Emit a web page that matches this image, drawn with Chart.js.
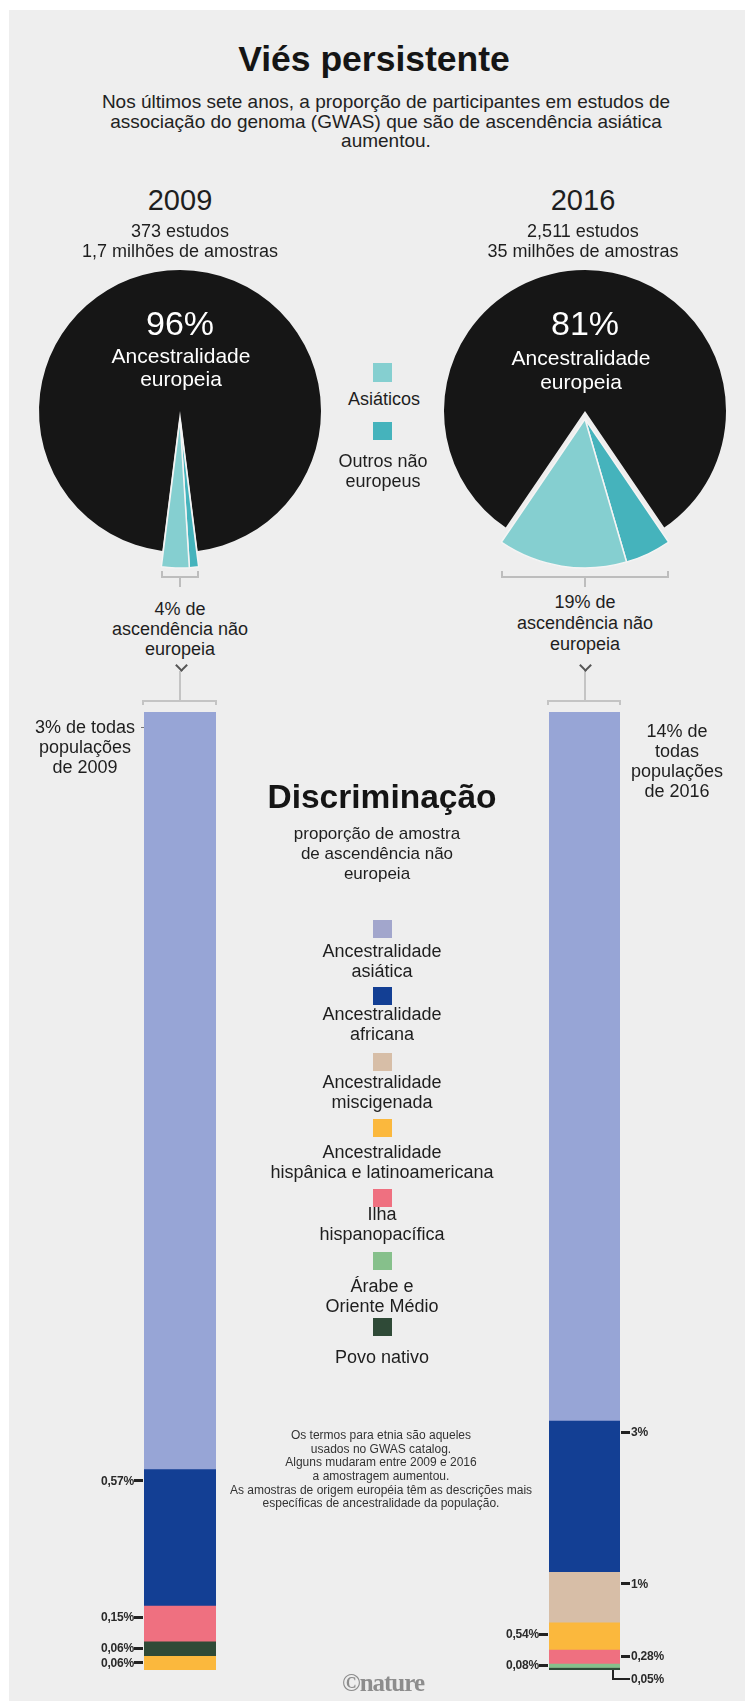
<!DOCTYPE html>
<html><head><meta charset="utf-8">
<script src="https://cdn.jsdelivr.net/npm/chart.js@4.4.1/dist/chart.umd.min.js"></script>
<style>
html,body{margin:0;padding:0;background:#fff;}
#page{position:relative;width:745px;height:1701px;overflow:hidden;background:#fff;font-family:"Liberation Sans",Arial,sans-serif;color:#1e1e1e;}
#bg{position:absolute;left:9px;top:10px;right:0;bottom:0;background:#eeeeee;}
.c{position:absolute;white-space:nowrap;text-align:center;transform:translateX(-50%);z-index:3;}
.lab{position:absolute;white-space:nowrap;font-weight:bold;font-size:12px;line-height:14px;color:#2a2a2a;z-index:3;letter-spacing:-0.2px;}
.d{position:absolute;z-index:3;}
canvas{position:absolute;z-index:1;}
</style></head>
<body><div id="page"><div id="bg"></div>
<canvas id="pie09" width="320" height="320" style="left:20px;top:251px"></canvas>
<canvas id="pie09s" width="320" height="320" style="left:20px;top:259px"></canvas>
<canvas id="pie16" width="320" height="320" style="left:425px;top:251px"></canvas>
<canvas id="pie16s" width="320" height="320" style="left:425px;top:259px"></canvas>
<canvas id="bar09" width="372" height="1000" style="left:0px;top:700px"></canvas>
<canvas id="bar16" width="373" height="1000" style="left:372px;top:700px"></canvas>
</div>
<script>
// ---------- DATA ----------
const years = ['2009', '2016'];
const pieLabels = ['Ancestralidade europeia', 'Outros não europeus', 'Asiáticos'];
const pie2009 = [96, 1, 3];
const pie2016 = [81, 5, 14];

const categories = ['asia', 'africa', 'misc', 'hisp', 'ilha', 'arabe', 'nativo'];
const categoryNames = ['Ancestralidade\nasiática', 'Ancestralidade\nafricana', 'Ancestralidade\nmiscigenada',
  'Ancestralidade\nhispânica e latinoamericana', 'Ilha\nhispanopacífica', 'Árabe e\nOriente Médio', 'Povo nativo'];

const bar2009Cats = ['asia', 'africa', 'ilha', 'nativo', 'hisp'];
const bar2009Values = [3.16, 0.57, 0.15, 0.06, 0.06];
const bar2009Labels = ['3% de todas\npopulações\nde 2009', '0,57%', '0,15%', '0,06%', '0,06%'];

const bar2016Cats = ['asia', 'africa', 'misc', 'hisp', 'ilha', 'arabe', 'nativo'];
const bar2016Values = [14.05, 3, 1, 0.54, 0.28, 0.08, 0.05];
const bar2016Labels = ['14% de\ntodas\npopulações\nde 2016', '3%', '1%', '0,54%', '0,28%', '0,08%', '0,05%'];

// ---------- STYLE / LAYOUT ----------
const pieColors = ['#161616', '#45b3bc', '#85cfd0'];
const catColors = {asia:'#97a5d6', africa:'#133f94', misc:'#d7bea7', hisp:'#fbb83d', ilha:'#ef7080', arabe:'#86c08b', nativo:'#2f4a37'};
const legendSwatch = {asia:'#a2a6cc'};
const legendTops = [920, 987, 1053, 1119, 1189, 1252, 1318];
const legendTextY = [952, 1015, 1083, 1153, 1215, 1287, 1358];
const side2009 = ['bigL', 'L', 'L', 'L', 'L'];
const side2016 = ['bigR', 'R', 'R', 'L', 'R', 'L', 'leader'];

const page = document.getElementById('page');
const sum = a => a.reduce((s, v) => s + v, 0);

function addText(text, cx, y0, size, lh, opts) {
  opts = opts || {};
  const d = document.createElement('div');
  d.className = 'c';
  d.style.left = cx + 'px';
  d.style.top = (y0 - lh / 2) + 'px';
  d.style.fontSize = size + 'px';
  d.style.lineHeight = lh + 'px';
  if (opts.bold) d.style.fontWeight = 'bold';
  if (opts.color) d.style.color = opts.color;
  if (opts.family) d.style.fontFamily = opts.family;
  if (opts.extra) Object.assign(d.style, opts.extra);
  text.split('\n').forEach((ln, i) => {
    if (i) d.appendChild(document.createElement('br'));
    d.appendChild(document.createTextNode(ln));
  });
  page.appendChild(d);
  return d;
}
function addBox(x, y, w, h, color, extra) {
  const d = document.createElement('div');
  d.className = 'd';
  Object.assign(d.style, {left: x + 'px', top: y + 'px', width: w + 'px', height: h + 'px', background: color}, extra || {});
  page.appendChild(d);
  return d;
}

// ---------- TEXT ----------
addText('Viés persistente', 374, 58.5, 35.5, 40, {bold: true, color: '#151515'});
addText('Nos últimos sete anos, a proporção de participantes em estudos de\nassociação do genoma (GWAS) que são de ascendência asiática\naumentou.', 386, 102, 19, 19.5, {color: '#222'});
addText(years[0], 180, 200, 29, 32);
addText(years[1], 583, 200, 29, 32);
addText('373 estudos\n1,7 milhões de amostras', 180, 231, 18, 20);
addText('2,511 estudos\n35 milhões de amostras', 583, 231, 18, 20);
addText('96%', 180, 323, 34, 36, {color: '#fff'});
addText('Ancestralidade\neuropeia', 181, 355, 21, 23, {color: '#fff'});
addText('81%', 585, 323, 34, 36, {color: '#fff'});
addText('Ancestralidade\neuropeia', 581, 358, 21, 24, {color: '#fff'});
addText('4% de\nascendência não\neuropeia', 180, 609, 18, 20);
addText('19% de\nascendência não\neuropeia', 585, 602, 18, 21);
addText('Discriminação', 382, 797, 33.5, 40, {bold: true, color: '#151515'});
addText('proporção de amostra\nde ascendência não\neuropeia', 377, 834, 17, 20);
addText('Os termos para etnia são aqueles\nusados no GWAS catalog.\nAlguns mudaram entre 2009 e 2016\na amostragem aumentou.\nAs amostras de origem européia têm as descrições mais\nespecíficas de ancestralidade da população.', 381, 1436, 12, 13.6, {color: '#333'});
addText('©nature', 383, 1683, 25, 28, {bold: true, color: '#8d8d8d', family: '"Liberation Serif", serif', extra: {letterSpacing: '-1px', filter: 'blur(0.6px)'}});

// pie legend (Asiáticos / Outros)
addBox(373, 363, 19, 19, pieColors[2]);
addText(pieLabels[2], 384, 399, 18, 20);
addBox(373, 422, 19, 18, pieColors[1]);
addText('Outros não\neuropeus', 383, 461, 18, 20);

// category legend
categories.forEach((k, i) => {
  addBox(373, legendTops[i], 19, 18, legendSwatch[k] || catColors[k]);
  addText(categoryNames[i], 382, legendTextY[i] - 1, 18, 20);
});

// ---------- PIES ----------
function makePie(id, values, colors, radius, borders) {
  return new Chart(document.getElementById(id), {
    type: 'pie',
    data: {labels: pieLabels, datasets: [{data: values, backgroundColor: colors, borderWidth: borders, borderColor: '#f4f4f4'}]},
    options: {responsive: false, animation: false, events: [], radius: radius,
      rotation: -values[0] / sum(values) * 180,
      plugins: {legend: {display: false}, tooltip: {enabled: false}}}
  });
}
const clear = 'rgba(0,0,0,0)';
function pieSet(idBase, values, canvasLeft) {
  makePie(idBase, values, [pieColors[0], clear, clear], 141, 0);
  const s = makePie(idBase + 's', values, [clear, pieColors[1], pieColors[2]], 149, [0, 1.5, 1.5]);
  const meta = s.getDatasetMeta(0).data;
  const a1 = meta[1].getProps(['x', 'y', 'startAngle', 'endAngle', 'outerRadius'], true);
  const a2 = meta[2].getProps(['x', 'y', 'startAngle', 'endAngle', 'outerRadius'], true);
  const cx = canvasLeft + a1.x, cy = 259 + a1.y, r = a1.outerRadius;
  const xs = [cx + r * Math.cos(a1.startAngle), cx + r * Math.cos(a2.endAngle)];
  const x1 = Math.min(...xs), x2 = Math.max(...xs);
  const by = cy + r + 8;
  addBox(x1, by, x2 - x1, 2, '#bdbdbd');
  addBox(x1, by - 5, 2, 6, '#bdbdbd');
  addBox(x2 - 2, by - 5, 2, 6, '#bdbdbd');
  addBox((x1 + x2) / 2 - 1, by, 2, 11, '#bdbdbd');
}
pieSet('pie09', pie2009, 20);
pieSet('pie16', pie2016, 425);

// ---------- BARS ----------
function makeBar(id, year, cats, values, padL, padR) {
  return new Chart(document.getElementById(id), {
    type: 'bar',
    data: {labels: [year], datasets: cats.map((k, i) => ({label: k, data: [values[i]], backgroundColor: catColors[k],
      borderWidth: 0, barPercentage: 1, categoryPercentage: 1}))},
    options: {responsive: false, animation: false, events: [],
      layout: {padding: {left: padL, right: padR, top: 12, bottom: 30}},
      plugins: {legend: {display: false}, tooltip: {enabled: false}},
      scales: {x: {display: false, stacked: true}, y: {display: false, stacked: true, reverse: true, min: 0, max: sum(values)}}}
  });
}
function annotate(chart, cLeft, cTop, texts, sides) {
  let barL = 0, barR = 0, barTop = 1e9;
  chart.data.datasets.forEach((ds, i) => {
    const p = chart.getDatasetMeta(i).data[0].getProps(['x', 'y', 'base', 'width'], true);
    const top = cTop + Math.min(p.y, p.base), bottom = cTop + Math.max(p.y, p.base);
    const left = cLeft + p.x - p.width / 2, right = cLeft + p.x + p.width / 2;
    barL = left; barR = right; barTop = Math.min(barTop, top);
    const h = bottom - top;
    const y = top + Math.min(h / 2, 12);
    const side = sides[i];
    if (side === 'bigL') {
      addText(texts[i], left - 59, top + 15, 18, 20);
      addBox(left - 3, top + 15, 3, 1, '#777');
    } else if (side === 'bigR') {
      addText(texts[i], right + 57, top + 19, 18, 20);
    } else if (side === 'L') {
      addBox(left - 10, y - 1.5, 9, 3, '#222');
      const d = document.createElement('div'); d.className = 'lab';
      d.textContent = texts[i];
      Object.assign(d.style, {left: (left - 10) + 'px', top: (y - 7) + 'px', transform: 'translateX(-100%)'});
      page.appendChild(d);
    } else if (side === 'R') {
      addBox(right + 1, y - 1.5, 9, 3, '#222');
      const d = document.createElement('div'); d.className = 'lab';
      d.textContent = texts[i];
      Object.assign(d.style, {left: (right + 11) + 'px', top: (y - 7) + 'px'});
      page.appendChild(d);
    } else if (side === 'leader') {
      const ly = bottom + 9;
      addBox(right - 8, bottom, 2, ly - bottom + 1, '#222');
      addBox(right - 8, ly - 1, 18, 2, '#222');
      const d = document.createElement('div'); d.className = 'lab';
      d.textContent = texts[i];
      Object.assign(d.style, {left: (right + 11) + 'px', top: (ly - 7) + 'px'});
      page.appendChild(d);
    }
  });
  const cx = (barL + barR) / 2;
  const by = barTop - 12;
  addBox(barL - 2, by, barR - barL + 3, 2, '#c4c4c4');
  addBox(barL - 2, by, 2, 5, '#c4c4c4');
  addBox(barR - 1, by, 2, 5, '#c4c4c4');
  addBox(cx - 1, 671, 2, by - 671, '#c4c4c4');
  addBox(cx - 3.5, 661, 7, 7, 'transparent', {borderRight: '2.5px solid #555', borderBottom: '2.5px solid #555', transform: 'rotate(45deg)'});
}
const b09 = makeBar('bar09', years[0], bar2009Cats, bar2009Values, 144, 156);
annotate(b09, 0, 700, bar2009Labels, side2009);
const b16 = makeBar('bar16', years[1], bar2016Cats, bar2016Values, 177, 125);
annotate(b16, 372, 700, bar2016Labels, side2016);
</script>
</body></html>
